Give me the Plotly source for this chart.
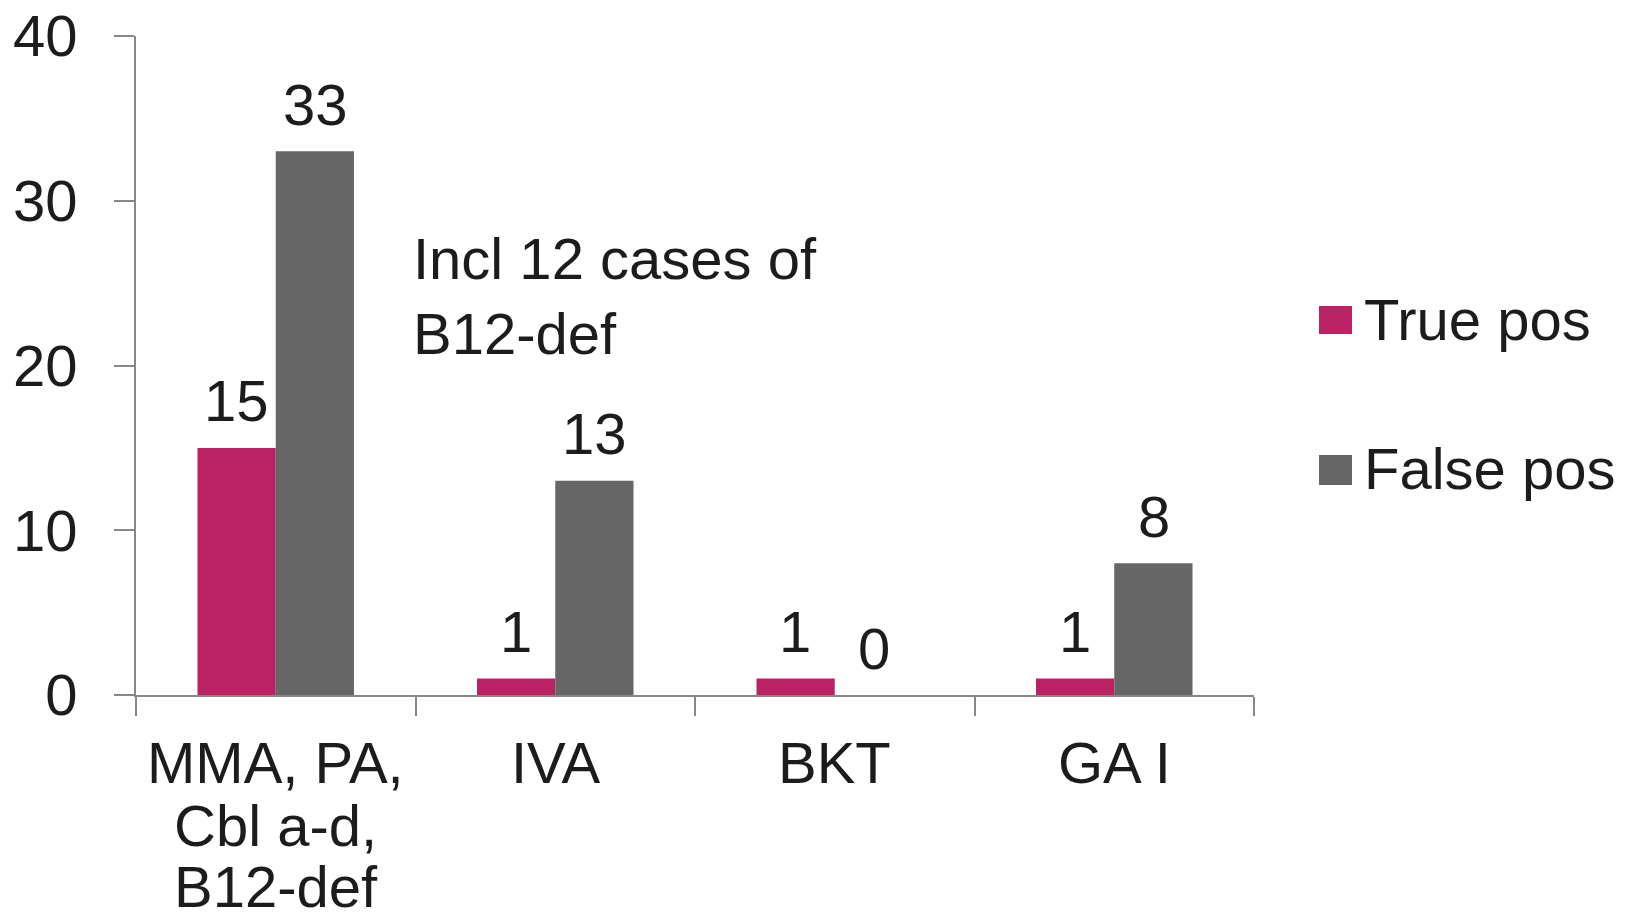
import plotly.graph_objects as go

categories = ["MMA, PA, Cbl a-d, B12-def", "IVA", "BKT", "GA I"]
category_label_lines = [["MMA, PA,", "Cbl a-d,", "B12-def"], ["IVA"], ["BKT"], ["GA I"]]
series_names = ["True pos", "False pos"]
true_pos = [15, 1, 1, 1]
false_pos = [33, 13, 0, 8]
y_ticks = [0, 10, 20, 30, 40]
note_text = "Incl 12 cases of<br>B12-def"

colors = ["#BA2264", "#666666"]
FONT = "Liberation Sans, Arial, sans-serif"
TXT = "#1c1c1c"
FS = 58
AXC = "#878787"

OFF = 8  # page body margin
W, H = 1629, 904
L, T = 128, 28
pw, ph = 1118, 659
R, B = W - L - pw, H - T - ph

def px_x(p):
    return (p - OFF - L) / pw

def px_y(p):
    return (OFF + T + ph - p) / ph

fig = go.Figure()
series = [true_pos, false_pos]
for name, vals, col in zip(series_names, series, colors):
    fig.add_trace(go.Bar(x=categories, y=vals, name=name, marker=dict(color=col, line=dict(width=0)),
                         showlegend=False))

# value labels above bars
shifts = [-39.5, 39.5]
for vals, sh in zip(series, shifts):
    for c, v in zip(categories, vals):
        fig.add_annotation(x=c, y=v, xref="x", yref="y", text=str(v), showarrow=False,
                           xshift=sh, yshift=47, xanchor="center", yanchor="middle",
                           font=dict(family=FONT, size=FS, color=TXT))

# category labels (one annotation per line for tight spacing)
line_shift = [-33, -96, -157]
for c, lines in zip(categories, category_label_lines):
    for i, ln in enumerate(lines):
        fig.add_annotation(x=c, y=0, xref="x", yref="y", text=ln, showarrow=False,
                           yshift=line_shift[i], xanchor="center", yanchor="top",
                           font=dict(family=FONT, size=FS, color=TXT))

# note
fig.add_annotation(x=px_x(411), y=px_y(224), xref="paper", yref="paper", text=note_text,
                   showarrow=False, xanchor="left", yanchor="top", align="left",
                   font=dict(family=FONT, size=FS, color=TXT))

# manual legend
leg_boxes = [(306, 334), (455, 485)]
for name, col, (ya, yb) in zip(series_names, colors, leg_boxes):
    fig.add_shape(type="rect", xref="paper", yref="paper",
                  x0=px_x(1319), x1=px_x(1352), y0=px_y(yb), y1=px_y(ya),
                  fillcolor=col, line=dict(width=0))
    fig.add_annotation(x=px_x(1362), y=px_y((ya + yb) / 2 - 1), xref="paper", yref="paper", text=name,
                       showarrow=False, xanchor="left", yanchor="middle",
                       font=dict(family=FONT, size=FS, color=TXT))

fig.update_layout(
    width=W, height=H,
    margin=dict(l=L, r=R, t=T, b=B, autoexpand=False),
    paper_bgcolor="white", plot_bgcolor="white",
    barmode="group", bargap=0.44, bargroupgap=0,
    font=dict(family=FONT, size=FS, color=TXT),
    showlegend=False,
)
fig.update_xaxes(
    type="category", showticklabels=False, showline=True, linecolor=AXC, linewidth=2,
    ticks="outside", tickson="boundaries", ticklen=19, tickwidth=2, tickcolor=AXC,
    showgrid=False, zeroline=False,
)
fig.update_yaxes(
    range=[0, 40], tickvals=y_ticks, showline=True, linecolor=AXC, linewidth=2,
    ticks="outside", ticklen=20, tickwidth=2, tickcolor=AXC, ticklabelstandoff=25,
    ticklabeloverflow="allow",
    tickfont=dict(family=FONT, size=FS, color=TXT),
    showgrid=False, zeroline=False,
)

fig.write_html("out.html")
